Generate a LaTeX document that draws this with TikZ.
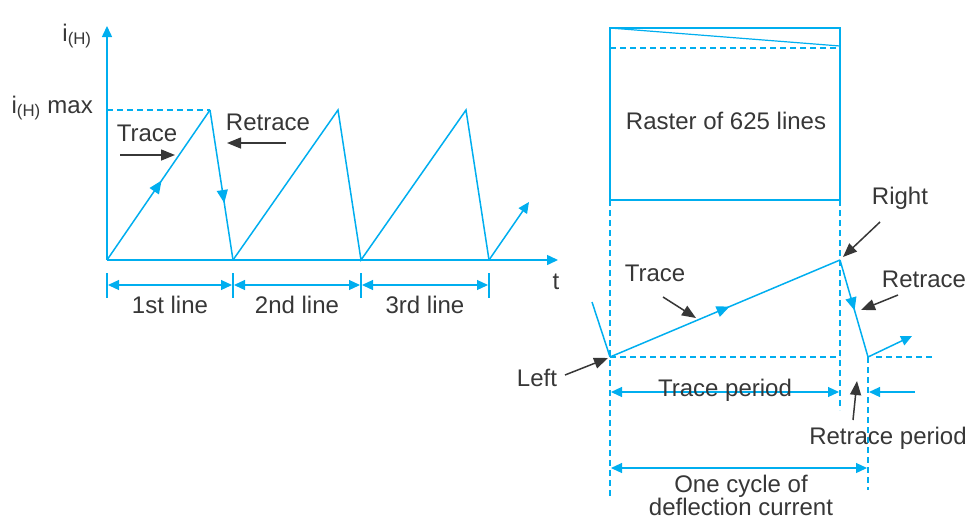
\documentclass[tikz,border=0pt]{standalone}
\usepackage{fontspec}
\setmainfont{Liberation Sans}
\usetikzlibrary{arrows.meta,decorations.markings}
\definecolor{wave}{RGB}{0,174,239}
\definecolor{ink}{RGB}{55,55,55}

\begin{document}
\begin{tikzpicture}[x=1pt,y=-1pt,
  >={Triangle[length=11pt,width=10pt]},
  wv/.style={draw=wave,line width=1.5pt},
  dsh/.style={draw=wave,line width=1.2pt,dash pattern=on 6pt off 4pt},
  blk/.style={draw=ink,line width=1.5pt,-{Triangle[length=14pt,width=11pt]}},
  lbl/.style={text=ink,font=\fontsize{24}{23}\selectfont,inner sep=0pt},
  midarr/.style={postaction={decorate},decoration={markings,
    mark=at position #1 with {\arrow[wave]{Triangle[length=13pt,width=11pt]}}}}]

\useasboundingbox (0,0) rectangle (971,520);

% axes
\coordinate (o) at (107,260);
\coordinate (ytip) at (107,26);
\coordinate (xtip) at (558,260);
\draw[wv,->] (o) -- (ytip);
\draw[wv,->] (o) -- (xtip);
\node[lbl] (iH) at (77,36) {i\textsubscript{(H)}};
\node[lbl] (t) at (556,282) {t};

% sawtooth
\coordinate (p1) at (210,110);
\coordinate (b1) at (233,260);
\coordinate (p2) at (338,110);
\coordinate (b2) at (361,260);
\coordinate (p3) at (466,110);
\coordinate (b3) at (489,260);
\coordinate (e) at (529,202);
\draw[wv,midarr=0.53] (o) -- (p1);
\draw[wv,midarr=0.62] (p1) -- (b1);
\draw[wv] (b1) -- (p2) -- (b2) -- (p3) -- (b3);
\draw[wv,->] (b3) -- (e);

% max level
\coordinate (m) at (107,110);
\draw[dsh] (m) -- (p1);
\node[lbl,anchor=east] (imax) at (93,108) {i\textsubscript{(H)} max};

\node[lbl] (tr) at (147,133) {Trace};
\draw[blk] (120,155) -- (175,155);
\node[lbl] (rt) at (268,122) {Retrace};
\draw[blk] (286,143) -- (227,143);

% line widths
\foreach \x in {107,233,361,489}
  \draw[wv,line width=1.2pt] (\x,273) -- (\x,298);
\foreach \a/\b/\txt in {107/233/1st line,233/361/2nd line,361/489/3rd line} {
  \draw[wv,line width=1.2pt,<->] (\a+1,285) -- (\b-1,285);
  \node[lbl] at ({(\a+\b)/2},305) {\txt};
}

% raster
\coordinate (r1) at (610,28);
\coordinate (r2) at (840,200);
\draw[wv] (r1) rectangle (r2);
\draw[wv,line width=1.2pt] (r1) -- (840,46);
\draw[dsh] (610,48) -- (840,48);
\node[lbl] (rast) at (726,121) {Raster of 625 lines};

% one cycle of deflection
\coordinate (L) at (610,357);
\coordinate (R) at (840,260);
\coordinate (B) at (868,357);
\draw[dsh] (610,200) -- (610,496);
\draw[dsh] (840,200) -- (840,410);
\draw[dsh] (B) -- (868,490);
\draw[dsh] (L) -- (840,357);
\draw[dsh] (876,357) -- (935,357);
\draw[wv] (592,302) -- (L);
\draw[wv,midarr=0.52] (L) -- (R);
\draw[wv,midarr=0.52] (R) -- (B);
\draw[wv,->] (B) -- (912,336);

\node[lbl] (rgt) at (900,198) {Right};
\draw[blk] (880,222) -- (843,257);
\node[lbl] (tr2) at (655,273) {Trace};
\draw[blk] (663,297) -- (696,318);
\node[lbl] (rt2) at (924,279) {Retrace};
\draw[blk] (898,295) -- (861,310);
\node[lbl] (lft) at (537,378) {Left};
\draw[blk] (565,375) -- (608,358);

% periods
\draw[wv,line width=1.2pt,<->] (611,392) -- (839,392);
\node[lbl] (tp) at (725,390) {Trace period};
\draw[wv,line width=1.2pt,->] (915,392) -- (869,392);
\node[lbl] (rp) at (888,438) {Retrace period};
\draw[blk] (853,420) -- (857,381);
\draw[wv,line width=1.2pt,<->] (611,468) -- (867,468);
\node[lbl,align=center] (oc) at (741,495) {One cycle of\\deflection current};

\end{tikzpicture}
\end{document}
